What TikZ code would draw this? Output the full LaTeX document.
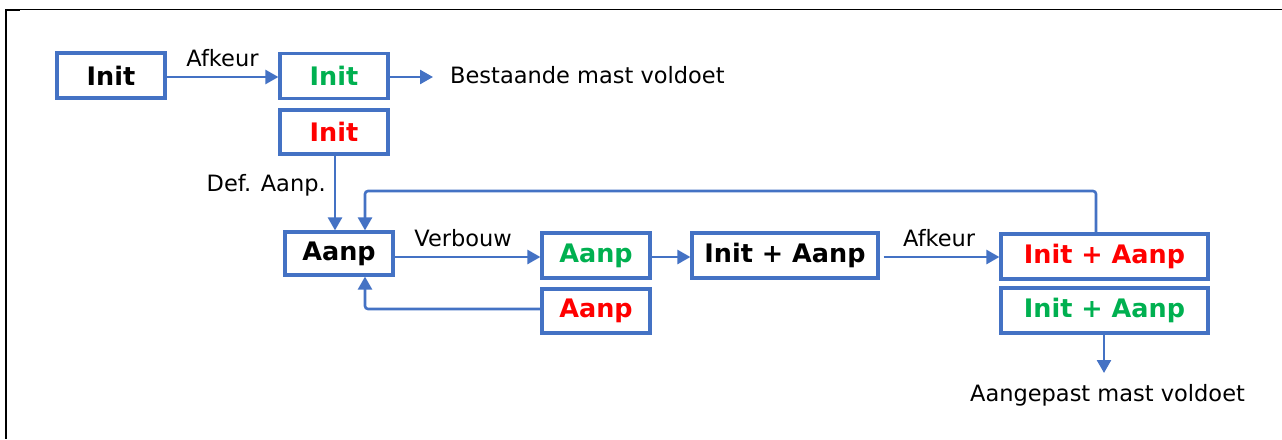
\documentclass[tikz,border=0pt]{standalone}
\usepackage{fontspec}
\setmainfont{DejaVu Sans}
\usetikzlibrary{arrows.meta}

\begin{document}
\begin{tikzpicture}[x=1pt, y=-1pt]
    \definecolor{boxblue}{HTML}{4472C4}
    \definecolor{okgreen}{HTML}{00B050}
    \definecolor{badred}{HTML}{FF0000}
    \tikzset{
        state/.style={draw=boxblue, line width=3.2pt, minimum width=108pt, minimum height=45pt,
                      inner sep=0pt, font=\fontsize{25.5}{30}\selectfont\bfseries},
        wide/.style={state, minimum width=#1},
        flow/.style={boxblue, line width=2.6pt, -{Triangle[length=13pt,width=14pt]}},
        lbl/.style={text=black, font=\fontsize{22.5}{27}\selectfont, inner sep=0pt}
    }
    \useasboundingbox (0,0) rectangle (1282,439);

    % frame (top and left edge only)
    \draw[line width=1.6pt] (6,9.5) -- (1282,9.5);
    \draw[line width=2.2pt] (6,9) -- (6,439);
    \draw[line width=2.6pt] (6,10) -- (20,10);

    % initial design
    \node[state] (initA) at (111,75.5) {Init};
    \node[state, text=okgreen] (initG) at (334,76) {Init};
    \node[state, text=badred, minimum height=44pt] (initR) at (334,132) {Init};
    % adapted design
    \node[state, minimum height=43pt] (aanpA) at (339,253.5) {Aanp};
    \node[state, text=okgreen] (aanpG) at (596,255.5) {Aanp};
    \node[state, text=badred, minimum height=44pt] (aanpR) at (596,311) {Aanp};
    % combined
    \node[wide=186pt] (initaanpA) at (785,255.5) {Init + Aanp};
    \node[wide=207pt, text=badred] (initaanpR) at (1104.5,256.5) {Init + Aanp};
    \node[wide=207pt, text=okgreen] (initaanpG) at (1104.5,310.5) {Init + Aanp};

    % outcomes
    \coordinate (okend1) at (433,77);
    \coordinate (okend2) at (1104,373);
    \coordinate (loop) at (365,191);
    \node[lbl, anchor=west] (ok1) at (450,75) {Bestaande mast voldoet};
    \node[lbl] (ok2) at (1107.5,395) {Aangepast mast voldoet};

    % connectors
    \draw[flow] (initA.east |- 0,77) -- node[lbl, above=9pt] {Afkeur} (initG.west |- 0,77);
    \draw[flow] (initG.east |- okend1) -- (okend1);
    \draw[flow] (initR.south -| 335,0) -- node[lbl, left=8pt, pos=0.4] {Def. Aanp.} (aanpA.north -| 335,0);
    \draw[flow] (aanpA.east |- 0,257) -- node[lbl, above=9pt, pos=0.47] {Verbouw} (aanpG.west |- 0,257);
    \draw[flow] (aanpG.east |- 0,257) -- (initaanpA.west |- 0,257);
    \draw[flow] ([xshift=4pt]initaanpA.east |- 0,257) -- node[lbl, above=9pt, pos=0.48] {Afkeur} (initaanpR.west |- 0,257);
    \draw[flow, rounded corners=3pt] (initaanpR.north -| 1096,0) |- (loop) -- (loop |- aanpA.north);
    \draw[flow, rounded corners=3pt] (aanpR.west |- 0,309) -| (loop |- aanpA.south);
    \draw[flow] (initaanpG.south -| okend2) -- (okend2);
\end{tikzpicture}
\end{document}
